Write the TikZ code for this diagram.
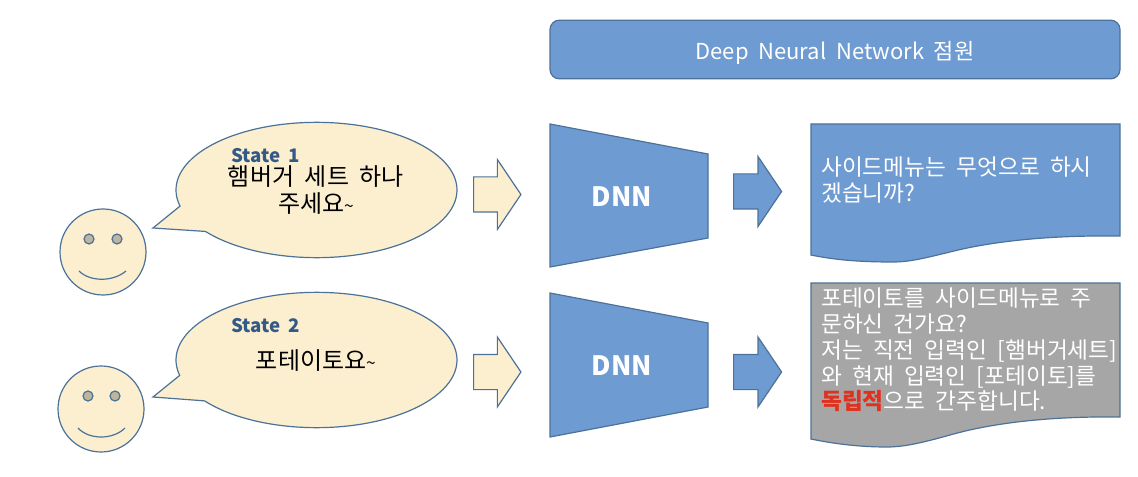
\documentclass[tikz,border=0pt]{standalone}
\usepackage{fontspec}
\setmainfont[WordSpace=2]{Noto Sans CJK KR}
\usetikzlibrary{shapes.geometric,shapes.arrows,shapes.callouts}
\definecolor{boxblue}{HTML}{6E9BD1}
\definecolor{edgeblue}{HTML}{4C7299}
\definecolor{cream}{HTML}{FBEFD0}
\definecolor{eyegrey}{HTML}{BDB69C}
\definecolor{stateblue}{HTML}{335A87}
\definecolor{docgrey}{HTML}{A6A6A6}
\definecolor{redword}{HTML}{E0301E}
\newcommand{\smalltilde}{{\fontsize{13}{20}\selectfont\textasciitilde}}
\tikzset{
	shape line/.style={draw=edgeblue,line width=0.9pt},
	bubble/.style={ellipse callout,shape line,fill=cream,inner sep=0pt,minimum width=210.75pt,minimum height=101.5pt,callout pointer arc=24},
	inarrow/.style={single arrow,shape line,fill=cream,inner xsep=0pt,inner ysep=12.75pt,minimum height=35.5pt,single arrow head extend=13pt,single arrow tip angle=112,anchor=tail},
	outarrow/.style={single arrow,shape line,fill=boxblue,inner xsep=0pt,inner ysep=12.75pt,minimum height=36pt,single arrow head extend=13pt,single arrow tip angle=112,anchor=tail},
	face/.style={circle,shape line,fill=cream,inner sep=0pt,minimum size=64.5pt},
	eye/.style={circle,shape line,fill=eyegrey,inner sep=0pt,minimum size=7.5pt},
	statetext/.style={text=stateblue,font=\fontsize{14}{17}\selectfont\bfseries,anchor=west,inner sep=0pt},
	saytext/.style={align=center,font=\fontsize{18}{20}\selectfont,inner sep=0pt},
	doctext/.style={align=left,text=white,font=\fontsize{17}{19.4}\selectfont,anchor=north west,inner sep=0pt},
	dnntext/.style={text=white,font=\fontsize{20}{22}\selectfont\bfseries,inner sep=0pt}
}
\begin{document}
\begin{tikzpicture}[x=0.75pt,y=-0.75pt]
	\useasboundingbox (0,0) rectangle (1138,477);

	\node[rectangle,rounded corners=7pt,shape line,fill=boxblue,text=white,minimum width=427.5pt,minimum height=44pt,text height=14.5pt,text depth=0pt,font=\fontsize{16.5}{20}\selectfont] (title) at (835,49.5) {Deep Neural Network 점원};

	% upper row
	\node[face] (faceOne) at (103,252) {};
		\node[eye] (eyeOneL) at (89,239) {};
		\node[eye] (eyeOneR) at (117,239) {};
		\coordinate (mouthOneL) at (79,271);
		\coordinate (mouthOneR) at (126,271);
		\draw[shape line] (mouthOneL) .. controls (90,282) and (113,282) .. (mouthOneR);
	\node[bubble,callout absolute pointer={(153,228)}] (bubbleOne) at (316.5,190) {};
		\node[statetext] (stateOne) at (231,156) {State 1};
		\node[saytext] (sayOne) at (316,190) {햄버거 세트 하나\\주세요\smalltilde};
	\node[inarrow] (inOne) at (473,194.5) {};
	\draw[shape line,fill=boxblue] (550,124) -- (708,154) -- (708,238) -- (550,267) -- cycle;
		\node[dnntext] (dnnOne) at (622,197) {DNN};
	\node[outarrow] (outOne) at (733,191.5) {};
	\draw[shape line,fill=boxblue] (811,124) -- (1120,124) -- (1120,236) .. controls (1040,235) and (985,243) .. (950,252) .. controls (925,258) and (910,262) .. (893,262) .. controls (860,262) and (835,260) .. (811,255) -- cycle;
		\node[doctext] (answerOne) at (821,156.5) {사이드메뉴는 무엇으로 하시\\겠습니까?};

	% lower row
	\node[face] (faceTwo) at (101,409) {};
		\node[eye] (eyeTwoL) at (88,396) {};
		\node[eye] (eyeTwoR) at (115,396) {};
		\coordinate (mouthTwoL) at (78,428);
		\coordinate (mouthTwoR) at (125,428);
		\draw[shape line] (mouthTwoL) .. controls (89,440) and (113,440) .. (mouthTwoR);
	\node[bubble,callout absolute pointer={(153,397)}] (bubbleTwo) at (316.5,360) {};
		\node[statetext] (stateTwo) at (231,326) {State 2};
		\node[saytext] (sayTwo) at (316,361) {포테이토요\smalltilde};
	\node[inarrow] (inTwo) at (473,372) {};
	\draw[shape line,fill=boxblue] (550,293) -- (708,323) -- (708,407) -- (550,437) -- cycle;
		\node[dnntext] (dnnTwo) at (622,366) {DNN};
	\node[outarrow] (outTwo) at (733,372) {};
	\draw[shape line,fill=docgrey] (811,283) -- (1120,283) -- (1120,417) .. controls (1040,416) and (985,425) .. (950,435) .. controls (925,442) and (905,447) .. (887,447) .. controls (860,447) and (835,444) .. (811,439) -- cycle;
		\node[doctext] (answerTwo) at (821,287.5) {포테이토를 사이드메뉴로 주\\문하신 건가요?\\저는 직전 입력인 [햄버거세트]\\와 현재 입력인 [포테이토]를\\{\color{redword}\bfseries 독립적}으로 간주합니다.};
\end{tikzpicture}
\end{document}
